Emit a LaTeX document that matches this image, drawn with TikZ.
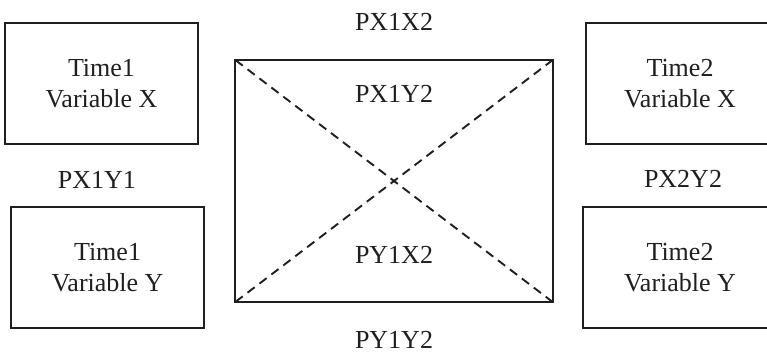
\documentclass[tikz,border=0pt]{standalone}
\usepackage{fontspec}
\setmainfont{Liberation Serif}
\begin{document}
\begin{tikzpicture}[x=1pt,y=-1pt,
  box/.style={draw=black!88, line width=2pt, minimum width=#1, align=center, inner sep=0pt},
  lbl/.style={anchor=base, inner sep=0pt},
  diag/.style={draw=black!88, line width=1.9pt, dash pattern=on 9pt off 6pt}]
\useasboundingbox (0,0) rectangle (767,351);
\clip (0,0) rectangle (767,351);
\tikzset{every node/.append style={font=\fontsize{26}{30.5}\selectfont, text=black!88}}
\node[box=193pt, minimum height=121pt] (t1x) at (101.5,83.5) {Time1\\Variable X};
\node[box=193pt, minimum height=121pt] (t1y) at (107.5,267.5) {Time1\\Variable Y};
\node[box=188pt, minimum height=121pt] (t2x) at (680,83.5) {Time2\\Variable X};
\node[box=194pt, minimum height=121pt] (t2y) at (680,267.5) {Time2\\Variable Y};
\node[box=318pt, minimum height=242pt] (c) at (394,181) {};
\draw[diag, shorten <=2pt, shorten >=2pt] (c.north west) -- (c.south east);
\draw[diag, shorten <=2pt, shorten >=2pt] (c.south west) -- (c.north east);
\node[lbl] (px1x2) at (394,30) {PX1X2};
\node[lbl] (px1y2) at (394,102) {PX1Y2};
\node[lbl] (py1x2) at (394,263) {PY1X2};
\node[lbl] (py1y2) at (394,348) {PY1Y2};
\node[lbl] (px1y1) at (97,188) {PX1Y1};
\node[lbl] (px2y2) at (683,187) {PX2Y2};
\end{tikzpicture}
\end{document}
